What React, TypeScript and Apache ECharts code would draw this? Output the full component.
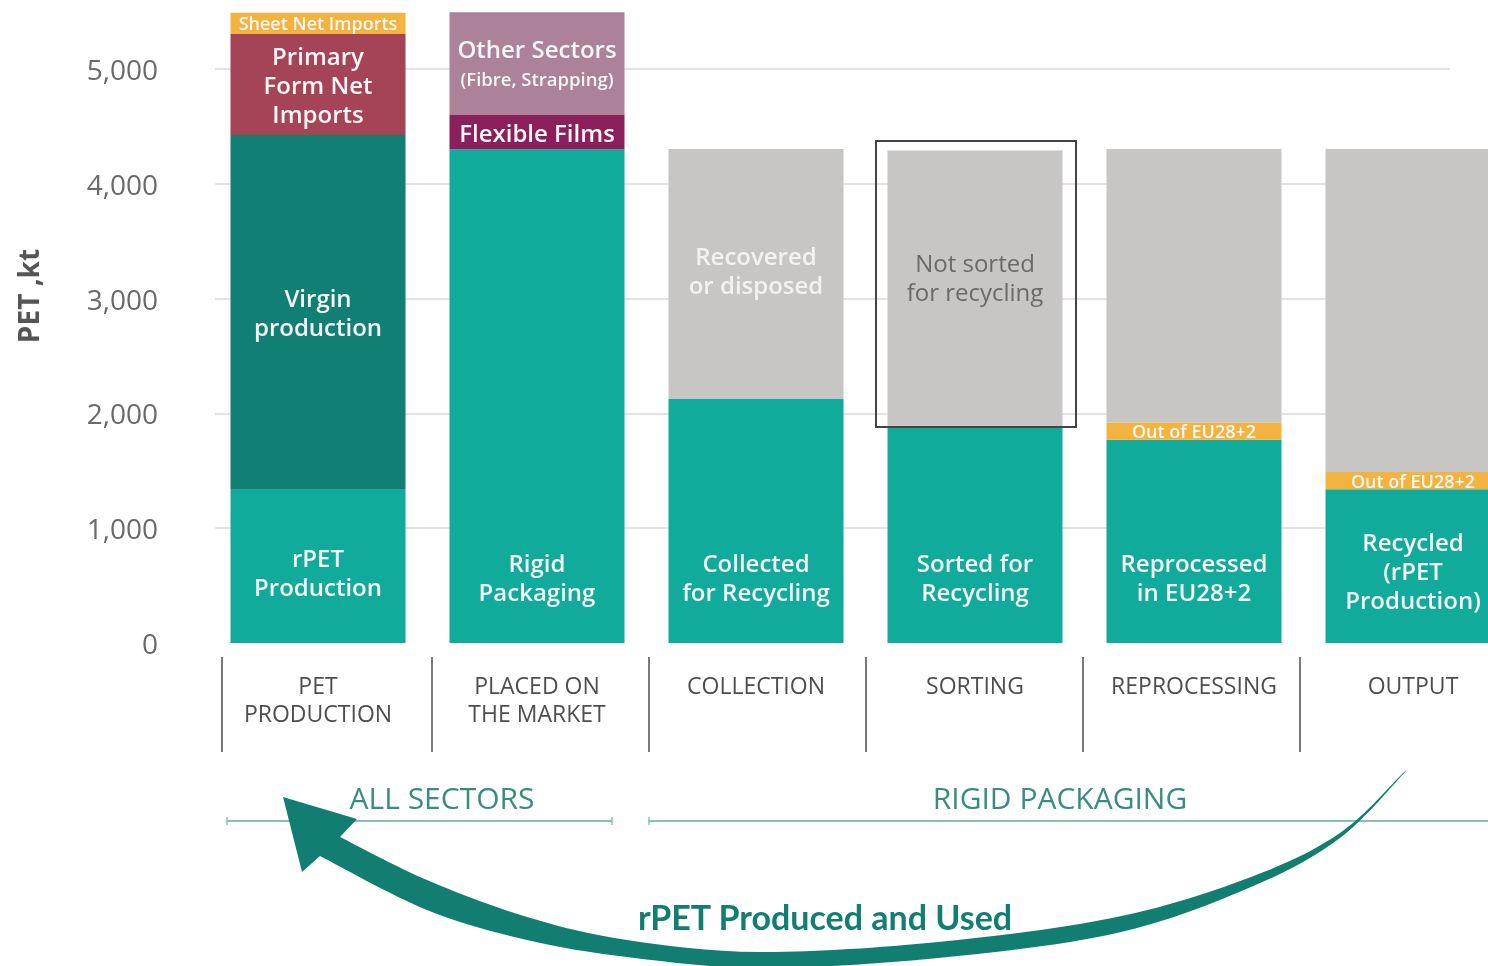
import React, { useEffect, useRef } from "react";
import * as echarts from "echarts";

// ---------- DATA ----------
const categories = ["PET\nPRODUCTION", "PLACED ON\nTHE MARKET", "COLLECTION", "SORTING", "REPROCESSING", "OUTPUT"];
const baseTeal = [1335, 4300, 2125, 1880, 1770, 1340];
const virginProduction = [3090, null, null, null, null, null];
const outOfEU = [null, null, null, null, 150, 150];
const primaryFormImports = [880, null, null, null, null, null];
const flexibleFilms = [null, 300, null, null, null, null];
const sheetNetImports = [185, null, null, null, null, null];
const otherSectors = [null, 895, null, null, null, null];
const notRecycled = [null, null, 2178, 2410, 2383, 2813];
const baseLabels = ["rPET\nProduction", "Rigid\nPackaging", "Collected\nfor Recycling", "Sorted for\nRecycling", "Reprocessed\nin EU28+2", "Recycled\n(rPET\nProduction)"];
const greyLabels = ["", "", "Recovered\nor disposed", "Not sorted\nfor recycling", "", ""];
const yTicks = { min: 0, max: 5000, interval: 1000 };

// ---------- COLORS ----------
const C = {
  teal: "#11AB9C",
  darkTeal: "#117F74",
  maroon: "#A54357",
  orange: "#F2B33F",
  mauve: "#AB8298",
  purple: "#8B1F5B",
  grey: "#C8C6C4",
  arrow: "#127E72",
};

// ---------- ARROW SHAPE ----------
function cr(pts: number[][]): string {
  let d = "";
  for (let i = 0; i < pts.length - 1; i++) {
    const p0 = pts[i - 1] || pts[i];
    const p1 = pts[i];
    const p2 = pts[i + 1];
    const p3 = pts[i + 2] || p2;
    const c1 = [p1[0] + (p2[0] - p0[0]) / 6, p1[1] + (p2[1] - p0[1]) / 6];
    const c2 = [p2[0] - (p3[0] - p1[0]) / 6, p2[1] - (p3[1] - p1[1]) / 6];
    d += ` C ${c1[0].toFixed(1)} ${c1[1].toFixed(1)} ${c2[0].toFixed(1)} ${c2[1].toFixed(1)} ${p2[0]} ${p2[1]}`;
  }
  return d;
}
const outerEdge = [[1407, 770], [1340, 838], [1251, 887], [1117, 933], [938, 958], [760, 968], [627, 957], [527, 940], [427, 910], [320, 856]];
const innerEdge = [[340, 837], [427, 880], [527, 917], [627, 940], [760, 952], [938, 942], [1117, 917], [1251, 877], [1340, 833], [1403, 773]];
const arrowD =
  `M ${outerEdge[0][0]} ${outerEdge[0][1]}` +
  cr(outerEdge) +
  ` L 302 872 L 283 797 L 357 819 L ${innerEdge[0][0]} ${innerEdge[0][1]}` +
  cr(innerEdge) +
  " Z";
echarts.graphic.registerShape("rpetArrow", echarts.graphic.extendPath(arrowD, {}));

const FONT = "'Open Sans', 'Noto Sans', sans-serif";

export default function App() {
  const ref = useRef<HTMLDivElement>(null);
  useEffect(() => {
    if (!ref.current) return;
    const chart = echarts.init(ref.current, null, { renderer: "svg" });

    const labelBase = {
      show: true,
      color: "#F5F5F5",
      fontFamily: FONT,
      fontWeight: 600,
      fontSize: 24,
      lineHeight: 29,
    };
    const barCommon = {
      type: "bar",
      stack: "total",
      xAxisIndex: 1,
      yAxisIndex: 1,
      barWidth: 175,
      clip: false,
      itemStyle: { borderWidth: 0 },
    };

    const baseData = baseTeal.map((v, i) => ({
      value: v,
      label: {
        formatter: baseLabels[i],
        position: i === 0 || i === 5 ? "inside" : "insideBottom",
        distance: 37,
        offset: i === 0 ? [0, 6] : i === 5 ? [0, 4] : [0, 0],
      },
    }));
    const greyData = notRecycled.map((v, i) => ({
      value: v,
      label:
        i === 3
          ? { show: true, formatter: greyLabels[i], position: "inside", offset: [0, -12], color: "#6A6A6A", fontWeight: 500 }
          : i === 2
          ? { show: true, formatter: greyLabels[i], position: "inside", offset: [0, -4], color: "#F2F2F2" }
          : { show: false },
    }));

    const option: any = {
      animation: false,
      grid: [
        { left: 215, right: 38, top: 69, height: 574, outerBoundsMode: "none", containLabel: false },
        { left: 208.5, right: -34.5, top: 69, height: 574, outerBoundsMode: "none", containLabel: false },
      ],
      xAxis: [
        { type: "value", gridIndex: 0, show: false, min: 0, max: 1 },
        {
          type: "category",
          gridIndex: 1,
          data: categories,
          axisLine: { show: false },
          axisTick: { show: false },
          axisLabel: {
            margin: 28,
            fontSize: 23,
            lineHeight: 28,
            color: "#4E4E4E",
            fontWeight: 500,
            fontFamily: FONT,
            interval: 0,
          },
        },
      ],
      yAxis: [
        {
          type: "value",
          gridIndex: 0,
          min: yTicks.min,
          max: yTicks.max,
          interval: yTicks.interval,
          axisLine: { show: false },
          axisTick: { show: false },
          axisLabel: {
            margin: 57,
            fontSize: 28,
            color: "#6A6A6A",
            fontFamily: FONT,
            formatter: (v: number) => v.toLocaleString("en-US"),
          },
          splitLine: { show: true, showMinLine: false, lineStyle: { color: "#E3E3E3", width: 2 } },
        },
        { type: "value", gridIndex: 1, min: yTicks.min, max: yTicks.max, show: false, splitLine: { show: false } },
      ],
      series: [
        { ...barCommon, name: "Base", data: baseData, itemStyle: { color: C.teal }, label: { ...labelBase } },
        {
          ...barCommon,
          name: "Virgin production",
          data: virginProduction,
          itemStyle: { color: C.darkTeal },
          label: { ...labelBase, formatter: "Virgin\nproduction", position: "inside" },
        },
        {
          ...barCommon,
          name: "Out of EU28+2",
          data: outOfEU,
          itemStyle: { color: C.orange },
          label: { ...labelBase, formatter: "Out of EU28+2", position: "inside", fontSize: 18, lineHeight: 18, fontWeight: 600 },
        },
        {
          ...barCommon,
          name: "Primary Form Net Imports",
          data: primaryFormImports,
          itemStyle: { color: C.maroon },
          label: { ...labelBase, formatter: "Primary\nForm Net\nImports", position: "inside" },
        },
        {
          ...barCommon,
          name: "Flexible Films",
          data: flexibleFilms,
          itemStyle: { color: C.purple },
          label: { ...labelBase, formatter: "Flexible Films", position: "inside" },
        },
        {
          ...barCommon,
          name: "Sheet Net Imports",
          data: sheetNetImports,
          itemStyle: { color: C.orange },
          label: { ...labelBase, formatter: "Sheet Net Imports", position: "inside", fontSize: 18, lineHeight: 18, fontWeight: 600 },
        },
        {
          ...barCommon,
          name: "Other Sectors",
          data: otherSectors,
          itemStyle: { color: C.mauve },
          label: {
            ...labelBase,
            position: "inside",
            formatter: "{a|Other Sectors}\n{b|(Fibre, Strapping)}",
            rich: {
              a: { fontSize: 24, lineHeight: 30, color: "#F5F5F5", fontFamily: FONT, fontWeight: 600 },
              b: { fontSize: 18.5, lineHeight: 30, color: "#F5F5F5", fontFamily: FONT, fontWeight: 600 },
            },
          },
        },
        { ...barCommon, name: "Not recycled", data: greyData, itemStyle: { color: C.grey }, label: { ...labelBase } },
      ],
      graphic: [
        {
          type: "text",
          x: 28,
          y: 296,
          rotation: Math.PI / 2,
          style: {
            text: "PET ,kt",
            fill: "#555555",
            fontFamily: FONT,
            fontWeight: 700,
            fontSize: 28,
            textAlign: "center",
            textVerticalAlign: "middle",
          },
        },
        ...[222, 432, 649, 866, 1083, 1300].map((x) => ({
          type: "line",
          shape: { x1: x, y1: 657, x2: x, y2: 752 },
          style: { stroke: "#7A7A7A", lineWidth: 2 },
        })),
        {
          type: "text",
          x: 442,
          y: 797,
          style: { text: "ALL SECTORS", fill: "#3B8C80", fontFamily: FONT, fontWeight: 500, fontSize: 30, textAlign: "center", textVerticalAlign: "middle" },
        },
        {
          type: "text",
          x: 1060,
          y: 797,
          style: { text: "RIGID PACKAGING", fill: "#3B8C80", fontFamily: FONT, fontWeight: 500, fontSize: 30, textAlign: "center", textVerticalAlign: "middle" },
        },
        { type: "line", shape: { x1: 227, y1: 821, x2: 612, y2: 821 }, style: { stroke: "#86C1B7", lineWidth: 2 } },
        { type: "line", shape: { x1: 227, y1: 817, x2: 227, y2: 825 }, style: { stroke: "#86C1B7", lineWidth: 1.5 } },
        { type: "line", shape: { x1: 612, y1: 817, x2: 612, y2: 825 }, style: { stroke: "#86C1B7", lineWidth: 1.5 } },
        { type: "line", shape: { x1: 649, y1: 821, x2: 1488, y2: 821 }, style: { stroke: "#86C1B7", lineWidth: 2 } },
        { type: "line", shape: { x1: 649, y1: 817, x2: 649, y2: 825 }, style: { stroke: "#86C1B7", lineWidth: 1.5 } },
        { type: "rpetArrow", z: 20, style: { fill: C.arrow } },
        {
          type: "text",
          x: 825,
          y: 916,
          z: 21,
          style: {
            text: "rPET Produced and Used",
            fill: C.arrow,
            fontFamily: "Lato, 'Open Sans', sans-serif",
            fontWeight: 700,
            fontSize: 34,
            textAlign: "center",
            textVerticalAlign: "middle",
          },
        },
        {
          type: "rect",
          z: 20,
          shape: { x: 876, y: 141, width: 200, height: 286 },
          style: { fill: "none", stroke: "#444444", lineWidth: 2 },
        },
      ],
    };
    chart.setOption(option);
    return () => chart.dispose();
  }, []);
  return <div ref={ref} style={{ position: "fixed", left: 0, top: 0, width: 1488, height: 966 }} />;
}
